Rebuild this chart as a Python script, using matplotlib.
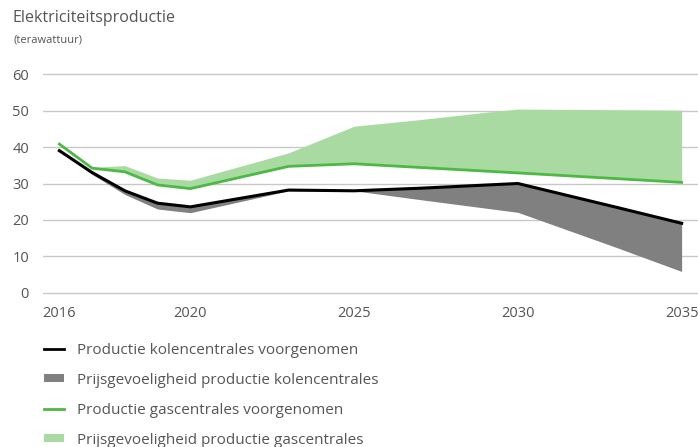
import matplotlib.pyplot as plt
from matplotlib.lines import Line2D
from matplotlib.patches import Patch

plt.rcParams['font.family'] = ['Open Sans', 'DejaVu Sans']

# kolencentrales
kolen_jaren = [2016, 2017, 2018, 2019, 2020, 2023, 2025, 2027, 2030, 2033, 2035]
kolen_voorgenomen = [39.0, 33.0, 28.0, 24.6, 23.6, 28.2, 28.0, 28.7, 30.0, 23.5, 19.1]
kolen_laag = [39.0, 32.5, 27.0, 23.0, 22.0, 28.0, 28.0, 25.6, 22.1, 12.5, 5.9]

# gascentrales
gas_jaren = [2016, 2017, 2018, 2019, 2020, 2023, 2025, 2027, 2029, 2030, 2035]
gas_voorgenomen = [40.8, 34.2, 33.2, 29.6, 28.6, 34.7, 35.4, 34.4, 33.4, 32.9, 30.3]
gas_hoog = [40.8, 34.4, 34.9, 31.5, 30.9, 38.4, 45.7, 47.5, 49.5, 50.4, 50.1]

labels = ['Productie kolencentrales voorgenomen',
          'Prijsgevoeligheid productie kolencentrales',
          'Productie gascentrales voorgenomen',
          'Prijsgevoeligheid productie gascentrales']

zwart = '#000000'
grijs = '#808080'
groen = '#4cb944'
lichtgroen = '#a8daa1'
tekst = '#555555'

W, H = 698, 447
fig = plt.figure(figsize=(W / 100, H / 100), dpi=100)
ax = fig.add_axes([43 / W, 1 - 294.8 / H, (698 - 43) / W, (294.8 - 72.2) / H])

ax.fill_between(gas_jaren, gas_voorgenomen, gas_hoog, color=lichtgroen, lw=0, zorder=2)
ax.fill_between(kolen_jaren, kolen_laag, kolen_voorgenomen, color=grijs, lw=0, zorder=2)
ax.plot(gas_jaren, gas_voorgenomen, color=groen, lw=2, zorder=3)
ax.plot(kolen_jaren, kolen_voorgenomen, color=zwart, lw=2.2, zorder=4)

ax.set_xlim(2015.5, 2035.5)
ax.set_ylim(-0.5, 60.5)
ax.set_xticks([2016, 2020, 2025, 2030, 2035])
ax.set_yticks(range(0, 61, 10))
ax.grid(axis='y', color='#c8c8c8', lw=1)
ax.set_axisbelow(True)
for s in ax.spines.values():
    s.set_visible(False)
ax.tick_params(length=0, colors=tekst, labelsize=10.5)
ax.tick_params(axis='y', pad=10)
ax.tick_params(axis='x', pad=8)

fig.text(13 / W, 1 - 18 / H, 'Elektriciteitsproductie', fontsize=11.5, color=tekst, va='center')
fig.text(13 / W, 1 - 40 / H, '(terawattuur)', fontsize=8, color=tekst, va='center')

handles = [Line2D([], [], color=zwart, lw=2),
           Patch(facecolor=grijs, edgecolor='none'),
           Line2D([], [], color=groen, lw=2),
           Patch(facecolor=lichtgroen, edgecolor='none')]
fig.legend(handles, labels, loc='upper left', bbox_to_anchor=(36 / W, 1 - 335 / H),
           frameon=False, fontsize=11, labelcolor=tekst, handlelength=1.3,
           handleheight=0.45, handletextpad=0.9, labelspacing=0.98, borderpad=0)

fig.savefig('out.png', dpi=100)
